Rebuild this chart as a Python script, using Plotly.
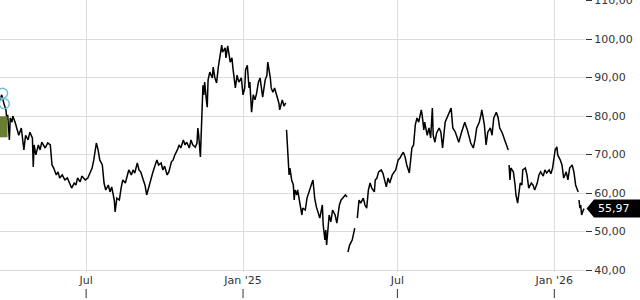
import pandas as pd
import plotly.graph_objects as go

# ---- data ----
base_date = "2024-03-22"
day_offset = [
    0, 2, 5, 7, 8, 9, 11, 12, 14, 15, 18, 20, 22, 25, 27, 28, 30, 33, 35, 38, 39, 40, 42, 45, 47, 49, 53, 56, 59, 61,
    63, 66, 68, 70, 73, 76, 79, 82, 84, 87, 89, 91, 94, 96, 100, 103, 106, 108, 110, 113, 115, 117, 120, 122, 124,
    127, 129, 131, 134, 135, 137, 140, 142, 144, 147, 149, 151, 154, 156, 158, 161, 163, 165, 168, 170, 172, 175,
    177, 179, 182, 184, 186, 189, 191, 193, 196, 198, 201, 203, 205, 208, 210, 212, 215, 217, 219, 222, 224, 226,
    229, 231, 232, 233, 235, 236, 237, 238, 239, 240, 242, 243, 244, 246, 249, 250, 252, 254, 256, 258, 260, 261,
    264, 265, 267, 270, 272, 273, 276, 278, 280, 283, 285, 287, 288, 290, 292, 293, 295, 297, 299, 301, 303, 305,
    307, 308, 311, 313, 314, 317, 318, 320, 322, 325, 327, 328, 331, 333, 335,
    335,
    336, 337, 338, 339, 340, 342, 344, 345, 346, 348, 349, 352, 354, 355, 358, 360, 362, 365, 367, 369, 371, 373,
    375, 378, 379, 381, 382, 383, 386, 388, 390, 393, 395, 398, 400, 402, 405, 407,
    407,
    408, 410, 413, 415, 416,
    416,
    419, 421, 423, 426, 428, 430, 432, 434, 436, 439, 440, 442, 444, 447, 449, 451, 453, 455, 457, 460, 462, 464,
    467, 469, 471, 473, 475, 477, 480, 481, 483, 485, 487, 489, 491, 494, 495, 497, 498, 501, 503, 505, 507, 508,
    510, 512, 515, 517, 519, 522, 524, 526, 529, 531, 534, 536, 538, 541, 543, 545, 548, 550, 552, 555, 557, 559,
    562, 564, 565, 568, 570, 572, 575, 577, 579, 582, 584, 586, 589, 591, 593, 596,
    596,
    597, 598, 599, 602, 604, 605, 607, 610, 612, 613, 616, 618, 620, 623, 625, 627, 630, 632, 634, 637, 639, 641,
    644, 646, 648, 651, 653, 654, 657, 659, 661, 664, 666, 668, 671, 673, 675, 678,
    678,
    679, 680, 681, 682, 684, 685,
]
price = [
    84.2, 85.5, 82.9, 81.6, 79, 80.3, 73.8, 79.5, 78.4, 80, 78.2, 76.4, 75, 76.9, 73.8, 71.2, 75, 73.8, 75.8, 74.3,
    66.8, 72.5, 69.9, 72.5, 71.2, 73.2, 71.7, 73, 72.5, 67.3, 66.5, 64.7, 65.5, 63.9, 64.7, 63.4, 63.9, 62.1, 61.3,
    62.6, 62.1, 63.9, 62.9, 64.4, 63.4, 63.9, 65.5, 66.5, 68.6, 73, 71.2, 68.6, 67.3, 62.6, 60.8, 62.1, 60.3, 61.6,
    58.2, 55.1, 58.7, 58.2, 61.3, 63.4, 62.6, 64.7, 66, 64.7, 66, 65.2, 67.8, 66, 65.5, 63.4, 62.1, 59.5, 62.1, 63.9,
    65.2, 67.3, 68.6, 67.3, 67.8, 66, 67, 64.7, 65.5, 68.1, 68.6, 69.9, 71.2, 72.5, 71.7, 73.8, 72.5, 73.2, 71.7,
    73.8, 72.5, 71.9, 73, 76.9, 75, 69.4, 76.4, 82.9, 88, 85.5, 88.8, 84.2, 82.3, 89.4, 91.4, 89.9, 92.7, 89.9, 88.6,
    92.7, 95.1, 98.4, 96.6, 97.7, 95.1, 98.2, 94, 95.1, 92.7, 87.3, 90.6, 88.8, 89.9, 85.5, 87.3, 92, 93.2, 87.3,
    88.8, 81, 85.5, 84.2, 86, 88.8, 89.9, 87.3, 84.9, 89.4, 90.6, 94, 89.9, 87.3, 86.2, 87.3, 84.9, 83.4, 81.6, 84.2,
    82.6, 83.4,
    None,
    76.4, 71.2, 67.3, 64.7, 66.5, 63.4, 62.1, 58.2, 60.8, 59.5, 60.8, 56.9, 54.3, 56.1, 55.6, 58.7, 60.3, 62.1, 63.4,
    58.7, 56.4, 55.1, 53.5, 56.9, 51.7, 47.8, 50.4, 46.5, 54.3, 52.5, 55.6, 54.3, 52.2, 56.9, 58.2, 58.7, 59.5, 59,
    None,
    44.7, 46.5, 47.8, 49.9, 50.9,
    None,
    53.5, 58.2, 57.4, 58.7, 56.9, 56.1, 60.8, 62.6, 61.3, 60.3, 63.4, 63.9, 65.5, 66, 65.2, 63.4, 61.6, 63.9, 62.6,
    64.7, 65.5, 66, 68.6, 69.1, 69.9, 70.6, 69.4, 67.3, 65.2, 67.8, 71.7, 72.5, 77.7, 79.5, 78.4, 81.6, 80.3, 76.4,
    78.4, 75, 76.9, 74.3, 82.1, 75, 73.2, 75.6, 76.9, 75.8, 71.7, 78.4, 79.5, 80.3, 82.1, 76.9, 75.8, 74.5, 73.2,
    75.6, 76.9, 78.4, 76.4, 75, 73, 71.7, 73.8, 76.9, 78.4, 80.3, 81.6, 77.7, 72.5, 75.8, 76.9, 75, 79.5, 81, 79.7,
    76.9, 75.6, 74.3, 73.2, 71.2,
    None,
    67.3, 63.4, 66.5, 65.5, 62.1, 59.5, 57.4, 62.6, 62.1, 66, 66.5, 64.7, 61.3, 62.6, 62.1, 60.8, 62.6, 64.7, 65.5,
    64.4, 66, 65.2, 66, 65, 66.5, 71.2, 72, 69.9, 68.6, 67.3, 63.9, 65.5, 63.4, 66.5, 67.3, 65.5, 62.1, 60.3,
    None,
    58.2, 56.1, 56.9, 54.3, 55.6, 55.97,
]

# event markers at the left edge
event_offset = [3, 5]
event_value = [85.9, 83.2]
box_event_offset = [-3.5]
box_event_value = [77.2]

y_ticks = [40, 50, 60, 70, 80, 90, 100, 110]
x_tick_dates = ["2024-07-01", "2025-01-01", "2025-07-01", "2026-01-01"]
x_tick_labels = ["Jul", "Jan '25", "Jul", "Jan '26"]
x_range = ["2024-03-22", "2026-02-06"]
y_range = [39.5, 110.13]

base = pd.Timestamp(base_date)
dates = base + pd.to_timedelta(day_offset, unit="D")
ev_dates = base + pd.to_timedelta(event_offset, unit="D")
box_dates = base + pd.to_timedelta(box_event_offset, unit="D")

FONT = "DejaVu Sans"
TXT = "#333333"
GRID = "#dcdcdc"

fig = go.Figure()
fig.add_trace(go.Scatter(
    x=dates, y=price, mode="lines", connectgaps=False,
    line=dict(color="black", width=1.5), hoverinfo="skip", showlegend=False,
))
fig.add_trace(go.Scatter(
    x=box_dates, y=box_event_value, mode="markers",
    marker=dict(symbol="square", size=21, color="#6b7c35", line=dict(width=0)),
    showlegend=False, hoverinfo="skip",
))
fig.add_trace(go.Scatter(
    x=ev_dates, y=event_value, mode="markers",
    marker=dict(symbol="circle-open", size=10, color="#74c0dc", line=dict(width=1.5)),
    showlegend=False, hoverinfo="skip",
))

W, H = 640, 300
ml, mr, mt, mb = 0, 55, 0, 28
plot_w = W - ml - mr
plot_h = H - mt - mb

fig.update_layout(
    width=W, height=H,
    margin=dict(l=ml, r=mr, t=mt, b=mb, pad=0, autoexpand=False),
    paper_bgcolor="white", plot_bgcolor="white",
    separators=",.",
    font=dict(family=FONT, size=11, color=TXT),
    showlegend=False,
)
fig.update_xaxes(
    type="date", range=x_range, automargin=False,
    tickvals=x_tick_dates, ticktext=x_tick_labels,
    showgrid=True, gridcolor=GRID, gridwidth=1,
    zeroline=False, showline=False, ticks="",
    tickfont=dict(family=FONT, size=11, color=TXT),
)
fig.update_yaxes(
    side="right", range=y_range, tickvals=y_ticks, tickformat=".2f", automargin=False,
    showgrid=True, gridcolor=GRID, gridwidth=1,
    zeroline=False, showline=False,
    ticks="outside", ticklen=6, tickcolor=TXT, tickwidth=1,
    ticklabeloverflow="allow",
    tickfont=dict(family=FONT, size=11, color=TXT),
)

# small tick marks under the x labels
for d in x_tick_dates:
    fig.add_shape(type="line", xref="x", yref="paper", x0=d, x1=d,
                  y0=-17 / plot_h, y1=-26 / plot_h, line=dict(color=TXT, width=1))

# last value tag
last = price[-1]
px_per_unit = plot_h / (y_range[1] - y_range[0])
hh = 9 / px_per_unit
xt = 1 + 1.5 / plot_w
xb = 1 + 9 / plot_w
xe = 1 + 60 / plot_w
fig.add_shape(type="path", xref="paper", yref="y",
              path=f"M {xt},{last} L {xb},{last + hh} L {xe},{last + hh} L {xe},{last - hh} L {xb},{last - hh} Z",
              fillcolor="black", line=dict(width=0), layer="above")
fig.add_annotation(xref="paper", yref="y", x=1 + 11 / plot_w, y=last, xanchor="left", yanchor="middle",
                   text=f"{last:.2f}".replace(".", ","), showarrow=False,
                   font=dict(family=FONT, size=11, color="white"))

fig.write_html("out.html")
